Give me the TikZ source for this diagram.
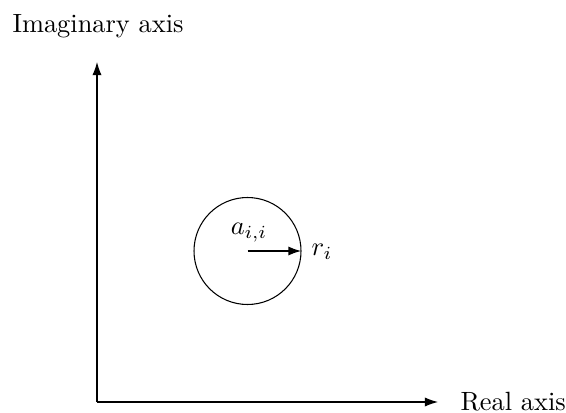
\documentclass[tikz,border=0pt]{standalone}
\usetikzlibrary{arrows.meta}
\begin{document}
\begin{tikzpicture}[x=0.379pt,y=-0.379pt,
  axis/.style={line width=0.4pt,-{Latex[length=5pt,width=3.5pt]}},
  radius arrow/.style={line width=0.8pt,-{Latex[length=5pt,width=3.5pt]}},
  lbl/.style={inner sep=0pt}]
\useasboundingbox (0,0) rectangle (566,413);
\coordinate (O) at (97,402);
\coordinate (ytop) at (97,62);
\coordinate (xend) at (438,402);
\coordinate (c) at (247.5,251);
\coordinate (rim) at (301,251);
\draw[axis] (O) -- (ytop);
\draw[axis] (O) -- (xend);
\node[draw,circle,minimum size=107*0.379pt,inner sep=0pt,line width=0.4pt] (circ) at (c) {};
\draw[radius arrow] (c) -- (circ.east);
\node[lbl,anchor=base west] (im) at (12,33) {Imaginary axis};
\node[lbl,anchor=west] (re) at (460,402) {Real axis};
\node[lbl] (aii) at (249,233) {$a_{i,i}$};
\node[lbl] (ri) at (322,252) {$r_i$};
\end{tikzpicture}
\end{document}
